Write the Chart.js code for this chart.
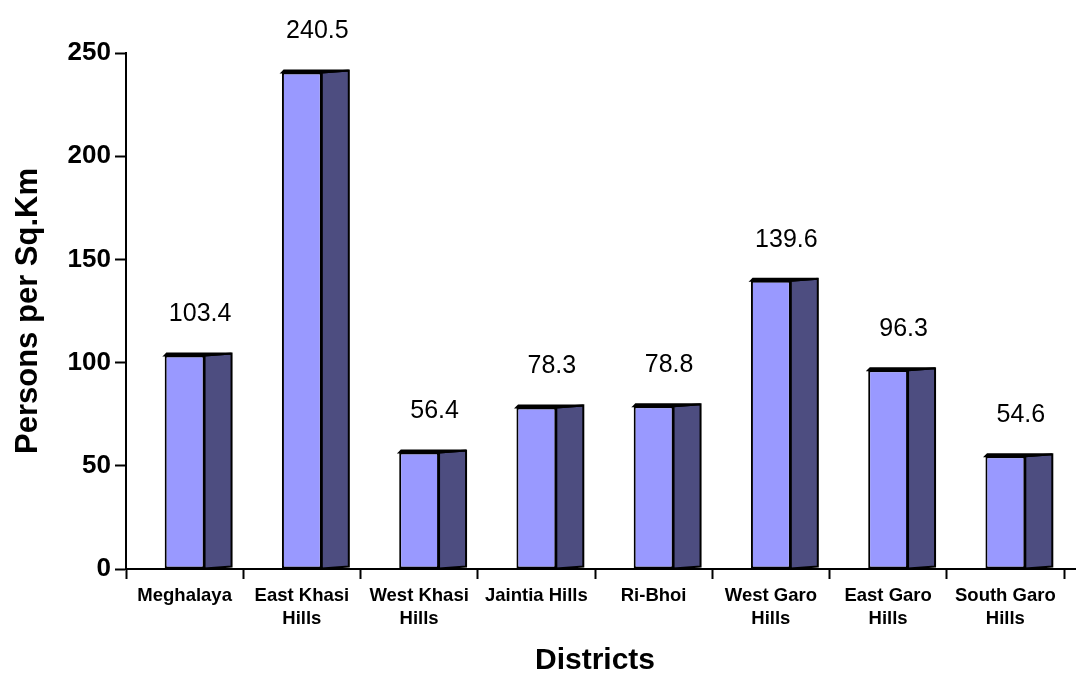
<!DOCTYPE html>
<html>
<head>
<meta charset="utf-8">
<script src="https://cdn.jsdelivr.net/npm/chart.js@4/dist/chart.umd.min.js"></script>
<style>
  html, body { margin: 0; padding: 0; background: #fff; }
  #wrap { width: 1080px; height: 676px; }
</style>
</head>
<body>
<div id="wrap"><canvas id="density" width="1080" height="676"></canvas></div>
<script>
const districts = [
    ['Meghalaya'], ['East Khasi', 'Hills'], ['West Khasi', 'Hills'], ['Jaintia Hills'],
    ['Ri-Bhoi'], ['West Garo', 'Hills'], ['East Garo', 'Hills'], ['South Garo', 'Hills']
];
const density = [103.4, 240.5, 56.4, 78.3, 78.8, 139.6, 96.3, 54.6];
const yTicks = [0, 50, 100, 150, 200, 250];

const FONT = 'Arial, "Liberation Sans", sans-serif';
const frontColor = '#9999ff';
const sideColor = '#4d4d80';
const depthX = 27;
const depthY = 2;

// draws the side + top of each box, the value labels and the axis stub
const boxPlugin = {
    id: 'box3d',
    afterDatasetsDraw(chart) {
        const ctx = chart.ctx;
        const meta = chart.getDatasetMeta(0);
        ctx.save();
        ctx.lineWidth = 2;
        ctx.strokeStyle = '#000';
        ctx.lineJoin = 'miter';
        meta.data.forEach((bar, i) => {
            const p = bar.getProps(['x', 'y', 'base', 'width'], true);
            const l = p.x - p.width / 2;
            const r = p.x + p.width / 2;
            // side face
            ctx.beginPath();
            ctx.moveTo(r, p.y);
            ctx.lineTo(r + depthX, p.y - depthY);
            ctx.lineTo(r + depthX, p.base - depthY);
            ctx.lineTo(r, p.base);
            ctx.closePath();
            ctx.fillStyle = sideColor;
            ctx.fill();
            ctx.stroke();
            // top face
            ctx.beginPath();
            ctx.moveTo(l, p.y);
            ctx.lineTo(l + 2, p.y - depthY);
            ctx.lineTo(r + depthX, p.y - depthY);
            ctx.lineTo(r, p.y);
            ctx.closePath();
            ctx.fillStyle = '#000';
            ctx.fill();
            ctx.stroke();
            // value label
            ctx.fillStyle = '#000';
            ctx.font = '25px ' + FONT;
            ctx.textAlign = 'center';
            ctx.textBaseline = 'middle';
            ctx.fillText(density[i].toFixed(1), p.x + depthX / 2 + 2, p.y - 41);
        });
        // x axis runs a little past the last category
        const a = chart.chartArea;
        ctx.beginPath();
        ctx.moveTo(a.right, a.bottom);
        ctx.lineTo(a.right + 12, a.bottom);
        ctx.stroke();
        ctx.restore();
    }
};

new Chart(document.getElementById('density'), {
    type: 'bar',
    data: {
        labels: districts,
        datasets: [{
            data: density,
            backgroundColor: frontColor,
            borderColor: '#000',
            borderWidth: 2,
            borderSkipped: false,
            barPercentage: 0.34,
            categoryPercentage: 1
        }]
    },
    options: {
        responsive: false,
        devicePixelRatio: 1,
        animation: false,
        events: [],
        layout: { padding: { top: 53, right: 16, left: 0, bottom: 0 } },
        plugins: {
            legend: { display: false },
            tooltip: { enabled: false }
        },
        scales: {
            x: {
                offset: true,
                grid: {
                    offset: true,
                    drawOnChartArea: false,
                    drawTicks: true,
                    tickLength: 10,
                    tickWidth: 2,
                    color: '#000'
                },
                border: { display: true, color: '#000', width: 2 },
                ticks: {
                    color: '#000',
                    maxRotation: 0,
                    autoSkip: false,
                    padding: 5,
                    font: { family: FONT, size: 18.5, weight: 'bold', lineHeight: 1.25 }
                },
                title: {
                    display: true,
                    text: 'Districts',
                    color: '#000',
                    font: { family: FONT, size: 30, weight: 'bold', lineHeight: 1 },
                    padding: { top: 0, bottom: 0 }
                },
                afterFit(scale) { scale.height = 107; }
            },
            y: {
                min: 0,
                max: 250,
                afterBuildTicks(scale) {
                    scale.ticks = yTicks.map(v => ({ value: v }));
                },
                grid: {
                    drawOnChartArea: false,
                    drawTicks: true,
                    tickLength: 11,
                    tickWidth: 2,
                    color: '#000'
                },
                border: { display: true, color: '#000', width: 2 },
                ticks: {
                    color: '#000',
                    padding: 4,
                    font: { family: FONT, size: 26, weight: 'bold' }
                },
                title: {
                    display: true,
                    text: 'Persons per Sq.Km',
                    color: '#000',
                    font: { family: FONT, size: 31, weight: 'bold', lineHeight: 1 },
                    padding: { top: 13, bottom: 0 }
                },
                afterFit(scale) { scale.width = 126; }
            }
        }
    },
    plugins: [boxPlugin]
});
</script>
</body>
</html>
